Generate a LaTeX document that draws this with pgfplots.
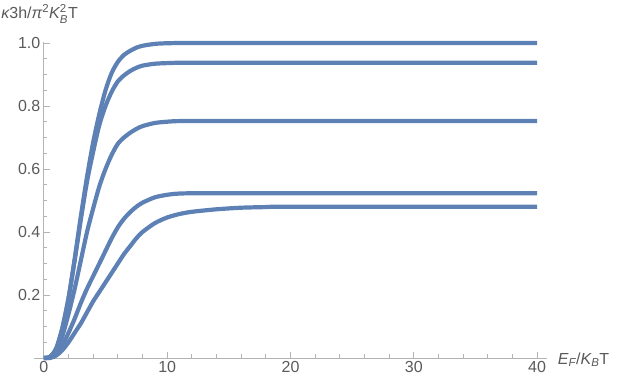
\documentclass[border=0pt]{standalone}
\usepackage{fontspec}
\setmainfont{Liberation Sans}
\usepackage{pgfplots}
\pgfplotsset{compat=1.18}
\definecolor{mmablue}{rgb}{0.368,0.507,0.710}
\definecolor{axgray}{RGB}{179,179,179}
\definecolor{txtgray}{RGB}{90,90,90}
\newcommand{\sub}[1]{\mbox{\fontsize{11.5}{12}\selectfont #1}}

\begin{document}
\begin{tikzpicture}
\path[use as bounding box] (0,0) rectangle (623pt,390pt);
\begin{axis}[
    at={(34pt,32pt)}, anchor=south west,
    scale only axis,
    width=513pt, height=316pt,
    xmin=-0.8, xmax=40.8,
    ymin=0, ymax=1.003,
    axis lines=middle,
    axis line style={-, draw=axgray, line width=0.8pt},
    hide obscured x ticks=false,
    xtick={0,10,20,30,40},
    minor x tick num=4,
    ytick={0.2,0.4,0.6,0.8,1.0},
    minor ytick={0.05,0.1,0.15,0.25,0.3,0.35,0.45,0.5,0.55,0.65,0.7,0.75,0.85,0.9,0.95},
    tick align=inside,
    major tick length=6pt,
    minor tick length=3.5pt,
    every tick/.style={draw=axgray, line width=0.8pt},
    yticklabel style={/pgf/number format/fixed, /pgf/number format/fixed zerofill,
        /pgf/number format/precision=1},
    /pgf/number format/assume math mode=true,
    tick label style={font=\fontsize{16}{18}\selectfont, text=txtgray},
    clip=false,
    curve/.style={mmablue, line width=4.2pt, line join=round, no markers, smooth, tension=0.45},
]

% A = 1.0
\addplot[curve] coordinates {
  (0,0) (0.5,0.004) (1,0.03) (1.5,0.095) (2,0.19) (2.5,0.315) (3,0.45)
  (3.5,0.575) (4,0.685) (4.5,0.775) (5,0.85) (5.5,0.905) (6,0.94)
  (6.5,0.962) (7,0.975) (7.5,0.985) (8,0.991) (9,0.997) (10,0.999) (12,1)
  (20,1) (40,1)
};
% A = 0.937
\addplot[curve] coordinates {
  (0,0) (0.5,0.004) (1,0.03) (1.5,0.095) (2,0.19) (2.5,0.31) (3,0.44)
  (3.5,0.56) (4,0.655) (4.5,0.74) (5,0.80) (5.5,0.845) (6,0.878)
  (6.5,0.897) (7,0.911) (7.5,0.921) (8,0.928) (9,0.934) (10,0.936)
  (11,0.937) (14,0.937) (20,0.937) (40,0.937)
};
% A = 0.752
\addplot[curve] coordinates {
  (0,0) (0.5,0.002) (1,0.02) (1.5,0.07) (2,0.14) (2.5,0.22) (3,0.31)
  (3.5,0.40) (4,0.475) (4.5,0.545) (5,0.60) (5.5,0.645) (6,0.68)
  (6.5,0.70) (7,0.715) (7.5,0.727) (8,0.736) (9,0.746) (10,0.75)
  (11,0.752) (14,0.752) (20,0.752) (40,0.752)
};
% A = 0.523
\addplot[curve] coordinates {
  (0,0) (0.5,0.001) (1,0.012) (1.5,0.04) (2,0.08) (2.5,0.125) (3,0.175)
  (3.5,0.22) (4,0.26) (4.5,0.30) (5,0.34) (5.5,0.38) (6,0.415)
  (6.5,0.442) (7,0.463) (7.5,0.48) (8,0.493) (9,0.51) (10,0.518)
  (11,0.522) (13,0.523) (20,0.523) (40,0.523)
};
% A = 0.48
\addplot[curve] coordinates {
  (0,0) (0.5,0.0) (1,0.008) (1.5,0.025) (2,0.05) (2.5,0.08) (3,0.11)
  (3.5,0.145) (4,0.18) (4.5,0.21) (5,0.24) (5.5,0.27) (6,0.30)
  (6.5,0.33) (7,0.355) (7.5,0.38) (8,0.40) (9,0.428) (10,0.446)
  (11,0.457) (12,0.464) (14,0.472) (16,0.477) (18,0.479) (20,0.48)
  (40,0.48)
};

\node[anchor=base west, text=txtgray, font=\fontsize{16}{18}\selectfont, inner sep=0pt]
  at (axis description cs:-0.064,1.073)
  {{\itshape κ}3h/{\itshape π}$^{\sub{2}}${\itshape K}$_{\sub{\itshape B}}^{\sub{2}}$T};
\node[anchor=base west, text=txtgray, font=\fontsize{16}{18}\selectfont, inner sep=0pt]
  at (axis description cs:1.021,-0.019)
  {{\itshape E}$_{\sub{\itshape F}}$/{\itshape K}$_{\sub{\itshape B}}$T};
\end{axis}
\end{tikzpicture}
\end{document}
